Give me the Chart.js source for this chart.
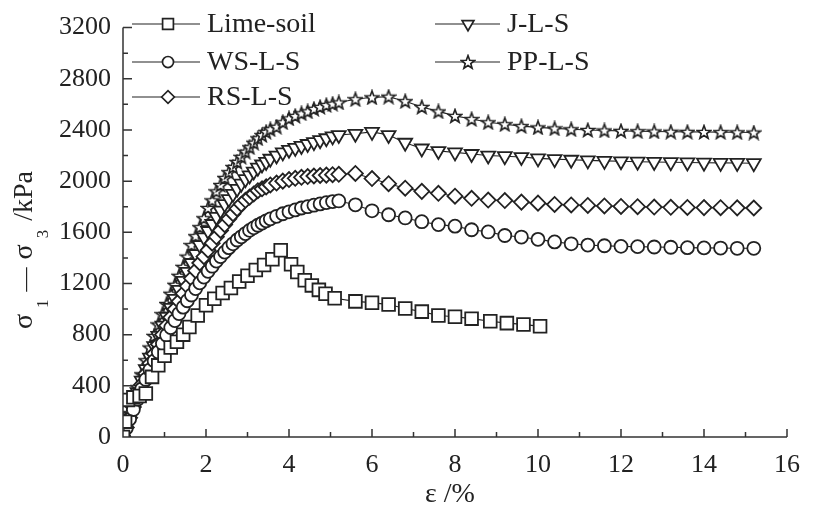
<!DOCTYPE html>
<html>
<head>
<meta charset="utf-8">
<script src="https://cdn.jsdelivr.net/npm/chart.js@4.4.0/dist/chart.umd.min.js"></script>
<style>
  html, body { margin: 0; padding: 0; background: #fff; }
</style>
</head>
<body>
<canvas id="myChart" width="813" height="516"></canvas>
<script>
// strain (%) sampled on the loading branch and on the softening branch
const strainRise = [0, 0.08, 0.16, 0.25, 0.35, 0.45, 0.55, 0.65, 0.75, 0.85, 0.95, 1.05, 1.15, 1.25, 1.35, 1.45,
  1.55, 1.65, 1.75, 1.85, 1.95, 2.05, 2.15, 2.25, 2.35, 2.45, 2.55, 2.65, 2.75, 2.85, 2.95, 3.05, 3.15, 3.25, 3.35,
  3.45, 3.55, 3.7, 3.85, 4.0, 4.15, 4.3, 4.45, 4.6, 4.75, 4.9, 5.05, 5.2];
const strainPost = [5.6, 6.0, 6.4, 6.8, 7.2, 7.6, 8.0, 8.4, 8.8, 9.2, 9.6, 10.0, 10.4, 10.8, 11.2, 11.6, 12.0, 12.4,
  12.8, 13.2, 13.6, 14.0, 14.4, 14.8, 15.2];

// lime-soil has its own strain readings
const limeStrain = [0, 0.05, 0.12, 0.25, 0.4, 0.55, 0.7, 0.85, 1.0, 1.15, 1.3, 1.45, 1.6, 1.8, 2.0, 2.2, 2.4, 2.6,
  2.8, 3.0, 3.2, 3.4, 3.6, 3.8, 4.05, 4.2, 4.38, 4.55, 4.72, 4.88, 5.1, 5.6, 6.0, 6.4, 6.8, 7.2, 7.6, 8.0, 8.4, 8.85,
  9.25, 9.65, 10.05];
const limeStress = [0, 120, 290, 310, 320, 340, 470, 560, 635, 700, 745, 800, 860, 950, 1030, 1080, 1125, 1165,
  1215, 1260, 1305, 1345, 1390, 1460, 1350, 1290, 1225, 1185, 1150, 1120, 1085, 1060, 1050, 1035, 1005, 980, 950,
  940, 925, 905, 890, 880, 865];

// deviator stress (kPa)
const wsRise = [0, 70, 140, 215, 295, 375, 450, 525, 595, 665, 730, 795, 855, 910, 965, 1015, 1065, 1110, 1160,
  1205, 1250, 1295, 1335, 1375, 1410, 1445, 1480, 1510, 1540, 1565, 1590, 1615, 1635, 1655, 1672, 1690, 1705, 1725,
  1745, 1760, 1775, 1790, 1800, 1812, 1822, 1832, 1840, 1845];
const wsPost = [1815, 1768, 1737, 1712, 1683, 1660, 1648, 1620, 1603, 1575, 1563, 1545, 1525, 1510, 1500, 1495,
  1490, 1488, 1485, 1483, 1480, 1478, 1477, 1475, 1475];

const rsRise = [0, 75, 150, 235, 325, 410, 495, 575, 650, 725, 800, 870, 935, 1000, 1060, 1120, 1180, 1240, 1300,
  1360, 1410, 1460, 1515, 1565, 1615, 1660, 1705, 1745, 1785, 1820, 1850, 1875, 1900, 1925, 1940, 1955, 1970, 1985,
  2000, 2012, 2022, 2030, 2036, 2040, 2044, 2047, 2050, 2053];
const rsPost = [2060, 2020, 1980, 1945, 1920, 1905, 1882, 1866, 1852, 1848, 1836, 1828, 1818, 1814, 1810, 1806,
  1802, 1800, 1797, 1795, 1794, 1793, 1792, 1791, 1790];

const jRise = [0, 80, 160, 250, 350, 440, 530, 620, 710, 790, 870, 940, 1010, 1080, 1150, 1220, 1290, 1360, 1430,
  1500, 1560, 1610, 1665, 1720, 1770, 1820, 1860, 1900, 1940, 1980, 2015, 2045, 2075, 2105, 2130, 2150, 2175, 2200,
  2225, 2245, 2260, 2275, 2290, 2305, 2320, 2335, 2350, 2360];
const jPost = [2370, 2385, 2360, 2300, 2255, 2235, 2225, 2212, 2200, 2195, 2188, 2178, 2172, 2167, 2162, 2158,
  2155, 2152, 2150, 2148, 2146, 2144, 2143, 2142, 2140];

const ppRise = [0, 90, 180, 280, 390, 490, 600, 700, 790, 880, 960, 1040, 1120, 1190, 1260, 1330, 1410, 1500, 1570,
  1640, 1710, 1790, 1850, 1920, 1970, 2025, 2070, 2110, 2150, 2190, 2230, 2265, 2300, 2335, 2360, 2385, 2405, 2425,
  2460, 2490, 2510, 2530, 2545, 2565, 2580, 2595, 2605, 2615];
const ppPost = [2640, 2655, 2660, 2625, 2580, 2545, 2510, 2485, 2460, 2445, 2430, 2420, 2412, 2405, 2400, 2396,
  2393, 2390, 2388, 2386, 2385, 2384, 2383, 2382, 2380];

const xTicks = [0, 2, 4, 6, 8, 10, 12, 14, 16];
const yTicks = [0, 400, 800, 1200, 1600, 2000, 2400, 2800, 3200];

const ink = '#222';
const serif = '"Liberation Serif", "Times New Roman", Times, serif';

function pairs(xs, ys) {
  return xs.map((x, i) => ({ x: x, y: ys[i] }));
}

// hollow five-point star used as a marker
function makeStar() {
  const c = document.createElement('canvas');
  c.width = 16; c.height = 16;
  const g = c.getContext('2d');
  g.beginPath();
  for (let i = 0; i < 10; i++) {
    const r = i % 2 ? 2.9 : 7;
    const a = -Math.PI / 2 + i * Math.PI / 5;
    const px = 8 + r * Math.cos(a), py = 8.6 + r * Math.sin(a);
    if (i) g.lineTo(px, py); else g.moveTo(px, py);
  }
  g.closePath();
  g.fillStyle = '#fff';
  g.fill();
  g.lineWidth = 1.6;
  g.strokeStyle = ink;
  g.stroke();
  return c;
}
const starMark = makeStar();

function series(label, data, style, radius, rotation) {
  return {
    label: label,
    data: data,
    borderColor: ink,
    borderWidth: 1.1,
    backgroundColor: '#fff',
    pointStyle: style,
    pointRadius: radius,
    pointRotation: rotation || 0,
    pointBorderColor: ink,
    pointBackgroundColor: '#fff',
    pointBorderWidth: 1.8,
    tension: 0,
    fill: false
  };
}

const datasets = [
  series('Lime-soil', pairs(limeStrain, limeStress), 'rect', 9),
  series('WS-L-S', pairs(strainRise.concat(strainPost), wsRise.concat(wsPost)), 'circle', 6.5),
  series('RS-L-S', pairs(strainRise.concat(strainPost), rsRise.concat(rsPost)), 'rectRot', 7.5),
  series('J-L-S', pairs(strainRise.concat(strainPost), jRise.concat(jPost)), 'triangle', 8, 180),
  series('PP-L-S', pairs(strainRise.concat(strainPost), ppRise.concat(ppPost)), starMark, 7)
];

// axis lines with inward ticks, titles and the in-plot legend
const decorations = {
  id: 'decorations',
  afterDraw(chart) {
    const ctx = chart.ctx;
    const a = chart.chartArea;
    const xs = chart.scales.x, ys = chart.scales.y;
    ctx.save();
    ctx.strokeStyle = '#333';
    ctx.lineWidth = 1.5;
    ctx.beginPath();
    ctx.moveTo(a.left, a.top);
    ctx.lineTo(a.left, a.bottom);
    ctx.lineTo(a.right, a.bottom);
    for (let v = 0; v <= 16; v++) {
      const px = xs.getPixelForValue(v);
      ctx.moveTo(px, a.bottom);
      ctx.lineTo(px, a.bottom - (v % 2 ? 5 : 8));
    }
    for (let v = 0; v <= 3200; v += 200) {
      const py = ys.getPixelForValue(v);
      ctx.moveTo(a.left, py);
      ctx.lineTo(a.left + (v % 400 ? 5 : 9), py);
    }
    ctx.stroke();

    // x title
    ctx.fillStyle = '#222';
    ctx.font = '28px ' + serif;
    ctx.textAlign = 'center';
    ctx.textBaseline = 'middle';
    ctx.fillText('ε /%', 450, 495);

    // y title with subscripts, rotated
    ctx.translate(32, 250);
    ctx.rotate(-Math.PI / 2);
    ctx.textAlign = 'left';
    ctx.textBaseline = 'alphabetic';
    const parts = [
      ['σ', 28, 0, 6], ['1', 17, 16, 8], ['—', 24, 0, 8],
      ['σ', 28, 0, 6], ['3', 17, 16, 9], ['/kPa', 28, 0, 0]
    ];
    let total = 0;
    parts.forEach(p => { ctx.font = p[1] + 'px ' + serif; total += ctx.measureText(p[0]).width + p[3]; });
    let cx = -total / 2;
    parts.forEach(p => {
      ctx.font = p[1] + 'px ' + serif;
      ctx.fillText(p[0], cx, p[2]);
      cx += ctx.measureText(p[0]).width + p[3];
    });
    ctx.restore();

    // legend
    const slots = [
      [132, 200, 168, 207, 24], [132, 200, 168, 207, 62], [132, 200, 168, 207, 97],
      [435, 500, 468, 507, 24], [435, 500, 468, 507, 62]
    ];
    ctx.save();
    chart.data.datasets.forEach((ds, i) => {
      const s = slots[i];
      ctx.strokeStyle = ink;
      ctx.lineWidth = 1.2;
      ctx.beginPath();
      ctx.moveTo(s[0], s[4]);
      ctx.lineTo(s[1], s[4]);
      ctx.stroke();
      ctx.fillStyle = '#fff';
      ctx.lineWidth = 1.7;
      Chart.helpers.drawPoint(ctx, {
        pointStyle: ds.pointStyle,
        radius: ds.pointRadius * 0.85,
        rotation: ds.pointRotation,
        borderWidth: 1.7
      }, s[2], s[4]);
      ctx.fillStyle = '#222';
      ctx.font = '28px ' + serif;
      ctx.textAlign = 'left';
      ctx.textBaseline = 'middle';
      ctx.fillText(ds.label, s[3], s[4] + 1);
    });
    ctx.restore();
  }
};

new Chart('myChart', {
  type: 'line',
  data: { datasets: datasets },
  options: {
    responsive: false,
    animation: false,
    devicePixelRatio: 1,
    layout: { padding: { top: 22, right: 18, left: 0, bottom: 0 } },
    plugins: { legend: { display: false }, tooltip: { enabled: false } },
    scales: {
      x: {
        type: 'linear',
        min: 0, max: 16,
        afterFit(scale) { scale.height = 79; },
        afterBuildTicks(scale) { scale.ticks = xTicks.map(v => ({ value: v })); },
        grid: { display: false, drawTicks: false },
        border: { display: false },
        ticks: { color: '#222', font: { family: serif, size: 26 }, padding: 13, maxRotation: 0,
          callback: v => String(v) }
      },
      y: {
        type: 'linear',
        min: 0, max: 3200,
        afterFit(scale) { scale.width = 123; },
        afterBuildTicks(scale) { scale.ticks = yTicks.map(v => ({ value: v })); },
        grid: { display: false, drawTicks: false },
        border: { display: false },
        ticks: { color: '#222', font: { family: serif, size: 26 }, padding: 12,
          callback: v => String(v) }
      }
    }
  },
  plugins: [decorations]
});
</script>
</body>
</html>
